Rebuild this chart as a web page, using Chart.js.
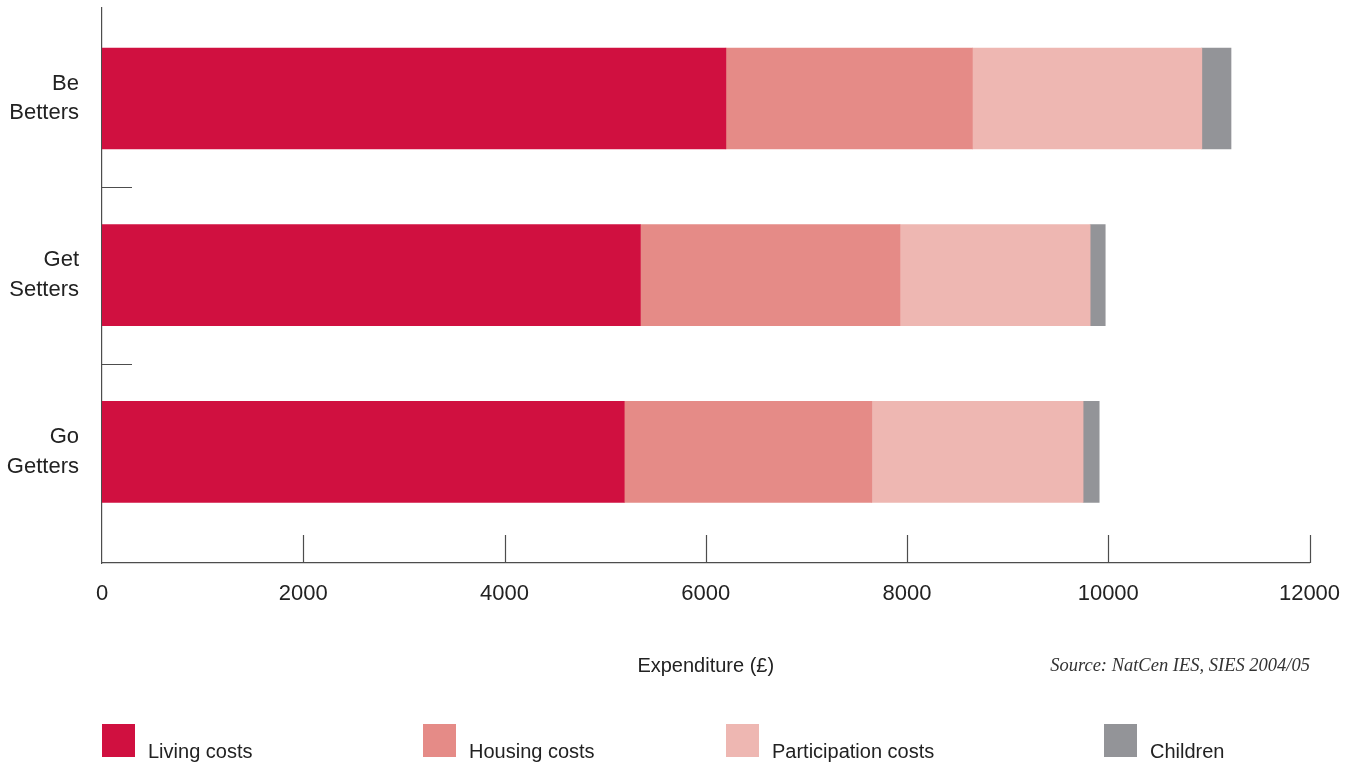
<!DOCTYPE html>
<html>
<head>
<meta charset="utf-8">
<title>Expenditure by group</title>
<script src="https://cdn.jsdelivr.net/npm/chart.js@4.4.1/dist/chart.umd.min.js"></script>
<style>
  html, body { margin: 0; padding: 0; background: #fff; }
  #wrap { position: relative; width: 1358px; height: 764px; }
  #source {
    position: absolute; right: 48px; top: 655px;
    font: italic 18.5px "Liberation Serif", serif; color: #333;
  }
  .key {
    position: absolute; top: 724px; height: 33px;
    display: flex; align-items: flex-end;
    font: 20px "Liberation Sans", sans-serif; color: #222;
  }
  .key .box { width: 33px; height: 33px; margin-right: 13px; }
  .key .txt { line-height: 20px; margin-bottom: -4px; }
</style>
</head>
<body>
<div id="wrap">
  <canvas id="chart" width="1358" height="764"></canvas>
  <div id="source">Source: NatCen IES, SIES 2004/05</div>
</div>
<script>
const categories = ['Be Betters', 'Get Setters', 'Go Getters'];
const livingCosts = [6200, 5350, 5190];
const housingCosts = [2450, 2580, 2460];
const participationCosts = [2280, 1890, 2100];
const childrenCosts = [290, 150, 160];
const seriesNames = ['Living costs', 'Housing costs', 'Participation costs', 'Children'];
const seriesColors = ['#d01040', '#e58b87', '#eeb7b2', '#939498'];
const xTicks = [0, 2000, 4000, 6000, 8000, 10000, 12000];
const axisTitle = 'Expenditure (£)';

// left edge of each legend entry
const keyLeft = [102, 423, 726, 1104];

const seriesValues = [livingCosts, housingCosts, participationCosts, childrenCosts];
const axisColor = '#4d4d4d';
const labelFont = { family: '"Liberation Sans", sans-serif', size: 22 };

// short tick marks pointing into the plot area
const innerTicks = {
  id: 'innerTicks',
  afterDatasetsDraw(chart) {
    const { ctx, scales: { x, y } } = chart;
    ctx.save();
    ctx.strokeStyle = axisColor;
    ctx.lineWidth = 1.2;
    ctx.beginPath();
    xTicks.slice(1).forEach(v => {
      const px = Math.round(x.getPixelForValue(v)) + 0.5;
      ctx.moveTo(px, y.bottom);
      ctx.lineTo(px, y.bottom - 28);
    });
    for (let i = 0; i < categories.length - 1; i++) {
      const py = Math.round(y.getPixelForValue(i + 0.5)) + 0.5;
      ctx.moveTo(x.left, py);
      ctx.lineTo(x.left + 30, py);
    }
    ctx.stroke();
    ctx.restore();
  }
};

new Chart(document.getElementById('chart'), {
  type: 'bar',
  data: {
    datasets: seriesNames.map((name, s) => ({
      label: name,
      data: seriesValues[s].map((v, i) => ({ x: v, y: i })),
      backgroundColor: seriesColors[s],
      borderWidth: 0,
      barThickness: 101
    }))
  },
  options: {
    indexAxis: 'y',
    responsive: false,
    animation: false,
    layout: { padding: { top: 8, right: 48.5, left: 0, bottom: 0 } },
    plugins: { legend: { display: false }, tooltip: { enabled: false } },
    scales: {
      x: {
        type: 'linear',
        stacked: true,
        min: 0,
        max: 12000,
        afterBuildTicks: scale => { scale.ticks = xTicks.map(v => ({ value: v })); },
        afterFit: scale => {
          scale.height = 201;
          scale.paddingLeft = 0;
          scale.paddingRight = 0;
        },
        grid: { display: false },
        border: { color: axisColor, width: 1.2 },
        ticks: {
          color: '#222',
          font: labelFont,
          padding: 10,
          maxRotation: 0,
          callback: v => String(v)
        },
        title: {
          display: true,
          text: axisTitle,
          color: '#222',
          font: { family: '"Liberation Sans", sans-serif', size: 20 },
          padding: { top: 0, bottom: 86 }
        }
      },
      y: {
        type: 'linear',
        stacked: true,
        reverse: true,
        offset: false,
        min: -0.512,
        max: 2.629,
        afterBuildTicks: scale => { scale.ticks = categories.map((c, i) => ({ value: i })); },
        afterFit: scale => {
          scale.width = 102;
          scale.paddingTop = 0;
          scale.paddingBottom = 0;
        },
        grid: { display: false },
        border: { color: axisColor, width: 1.2 },
        ticks: {
          color: '#222',
          font: { ...labelFont, lineHeight: 1.36 },
          padding: 15,
          callback: v => categories[v].split(' ')
        }
      }
    }
  },
  plugins: [innerTicks]
});

// legend row along the bottom
const wrap = document.getElementById('wrap');
seriesNames.forEach((name, s) => {
  const key = document.createElement('div');
  key.className = 'key';
  key.style.left = keyLeft[s] + 'px';
  const box = document.createElement('span');
  box.className = 'box';
  box.style.background = seriesColors[s];
  const txt = document.createElement('span');
  txt.className = 'txt';
  txt.textContent = name;
  key.append(box, txt);
  wrap.appendChild(key);
});
</script>
</body>
</html>
